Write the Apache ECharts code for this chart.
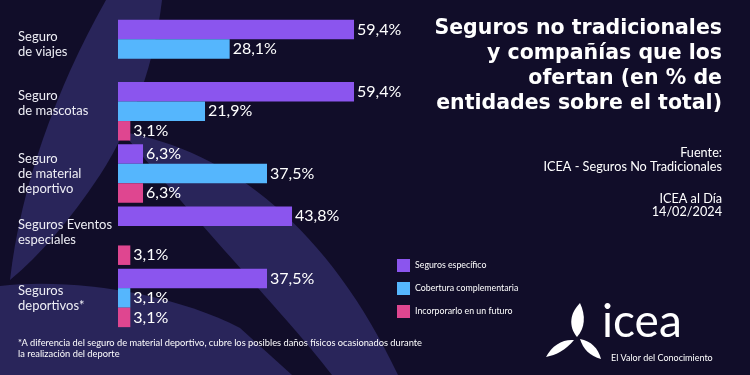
<!DOCTYPE html>
<html>
<head>
<meta charset="utf-8">
<script src="https://cdn.jsdelivr.net/npm/echarts@6/dist/echarts.min.js"></script>
<style>
    html, body { margin: 0; padding: 0; background: #110d29; }
    #chart { width: 750px; height: 375px; }
</style>
</head>
<body>
<div id="chart"></div>
<script>
// categorias (de arriba a abajo)
const categories = ['Seguro\nde viajes', 'Seguro\nde mascotas', 'Seguro\nde material\ndeportivo', 'Seguros Eventos\nespeciales', 'Seguros\ndeportivos*']
const seriesNames = ['Seguros específico', 'Cobertura complementaria', 'Incorporarlo en un futuro']
// % de entidades
const especifico = [59.4, 59.4, 6.3, 43.8, 37.5]
const complementaria = [28.1, 21.9, 37.5, null, 3.1]
const futuro = [null, 3.1, 6.3, 3.1, 3.1]

const colors = ['#8b55ee', '#55b6fd', '#df4690']
const font = 'Lato'
// desplazamiento vertical de cada etiqueta (px hacia arriba)
const labelLift = [5, 8, 0, 3, 0]

// formas decorativas (fondo y logo)
const shapes = {
    bladeA: 'M106,0 L162,0 C155,60 135,120 100,175 C70,220 40,255 10,280 C20,190 55,90 106,0 Z',
    bladeB: 'M122,132 C230,150 330,230 398,375 L332,375 C290,320 230,260 122,132 Z',
    bladeC: 'M0,286 C70,278 170,292 240,328 L292,375 L0,375 Z',
    logo1: 'M577,337 C568,326 570,313 580,303 C586,316 585,328 577,337 Z',
    logo2: 'M574,340 C566,350 556,355 546,357 C552,345 563,339 574,340 Z',
    logo3: 'M580,339 C591,341 598,348 601,359 C590,356 583,349 580,339 Z'
}
Object.keys(shapes).forEach(k => {
    echarts.graphic.registerShape(k, echarts.graphic.extendPath(shapes[k], {}))
})

const chart = echarts.init(document.getElementById('chart'))

const valueLabel = {
    show: true,
    position: 'right',
    distance: 3,
    color: '#ffffff',
    fontFamily: font,
    fontSize: 16,
    formatter: p => p.value == null ? '' : p.value.toFixed(1).replace('.', ',') + '%'
}

const mkSeries = (name, data, i) => ({
    name: name,
    type: 'bar',
    data: data,
    barWidth: 19.5,
    barGap: 0,
    itemStyle: { color: colors[i] },
    label: valueLabel,
    z: 3
})

// estilos rich: texto normal + linea vacia para subir la etiqueta
const labelRich = { n: { fontFamily: font, fontSize: 13, lineHeight: 15, color: '#eeeef5' } }
labelLift.forEach(l => {
    labelRich['s' + l] = { fontSize: 1, lineHeight: Math.max(l * 2, 0.01) }
})

const bg = (name, fill) => ({ type: name, z: 0, silent: true, style: { fill: fill } })
const txt = (x, y, text, f, lh, align) => ({
    type: 'text', x: x, y: y, z: 5,
    style: { text: text, fill: '#ffffff', font: f, lineHeight: lh, align: align || 'left', verticalAlign: 'top' }
})

const option = {
    backgroundColor: '#110d29',
    textStyle: { fontFamily: font },
    grid: {
        left: 118,
        top: 18,
        width: 238.4,
        height: 311,
        containLabel: false,
        outerBoundsMode: 'none'
    },
    legend: {
        orient: 'vertical',
        left: 397,
        top: 259,
        padding: 0,
        itemWidth: 13,
        itemHeight: 13,
        itemGap: 10,
        icon: 'rect',
        textStyle: { color: '#ffffff', fontSize: 8.8, fontFamily: font },
        data: seriesNames
    },
    xAxis: {
        type: 'value',
        min: 0,
        max: 60,
        show: false
    },
    yAxis: {
        type: 'category',
        inverse: true,
        data: categories,
        axisLine: { show: false },
        axisTick: { show: false },
        axisLabel: {
            margin: 100,
            align: 'left',
            formatter: (v, i) => {
                const lines = v.split('\n').map(s => '{n|' + s + '}')
                if (labelLift[i] > 0) lines.push('{s' + labelLift[i] + '| }')
                return lines.join('\n')
            },
            rich: labelRich
        }
    },
    graphic: [
        bg('bladeA', '#29255a'),
        bg('bladeB', '#29255a'),
        bg('bladeC', '#29255a'),
        // titulo
        txt(722, 16, 'Seguros no tradicionales\ny compañías que los\nofertan (en % de\nentidades sobre el total)',
            'bold 20.5px "DejaVu Sans"', 25, 'right'),
        txt(722, 146, 'Fuente:\nICEA - Seguros No Tradicionales', '12.7px ' + font, 14, 'right'),
        txt(722, 192, 'ICEA al Día\n14/02/2024', '12.7px ' + font, 13.5, 'right'),
        // nota al pie
        txt(18, 337, '*A diferencia del seguro de material deportivo, cubre los posibles daños físicos ocasionados durante\nla realización del deporte',
            '9.3px ' + font, 11),
        // logo
        bg('logo1', '#ffffff'),
        bg('logo2', '#ffffff'),
        bg('logo3', '#ffffff'),
        txt(602, 299, 'icea', '46px ' + font, 46),
        txt(611, 353, 'El Valor del Conocimiento', '9px ' + font, 10)
    ],
    series: [
        mkSeries(seriesNames[0], especifico, 0),
        mkSeries(seriesNames[1], complementaria, 1),
        mkSeries(seriesNames[2], futuro, 2)
    ]
}

chart.setOption(option)
</script>
</body>
</html>
